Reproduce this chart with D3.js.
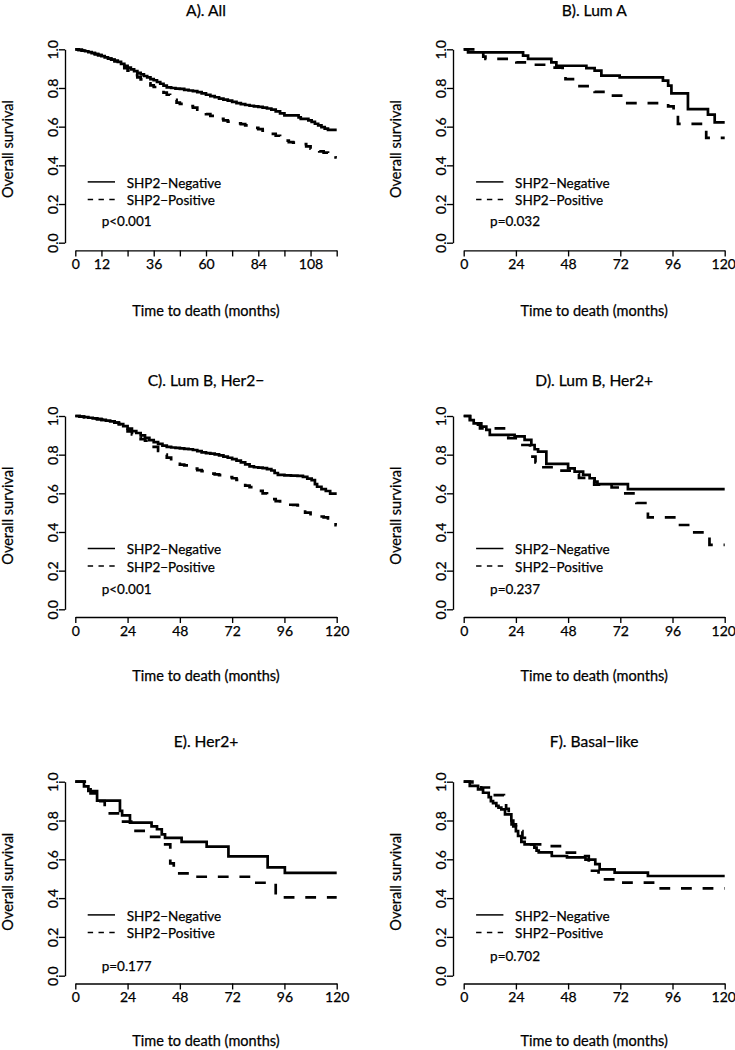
<!DOCTYPE html>
<html>
<head>
<meta charset="utf-8">
<script src="https://cdn.jsdelivr.net/npm/d3@7"></script>
<style>
  html, body { margin: 0; padding: 0; background: #fff; }
  svg { display: block; }
  text { font-family: Lato, "Open Sans", sans-serif; fill: #000; stroke: #000; stroke-width: 0.25px; }
</style>
</head>
<body>
<script>
// ---------------- DATA ----------------
const titles = ["A). All", "B). Lum A", "C). Lum B, Her2\u2212", "D). Lum B, Her2+", "E). Her2+", "F). Basal\u2212like"];
const pValues = ["p<0.001", "p=0.032", "p<0.001", "p=0.237", "p=0.177", "p=0.702"];
const seriesNames = ["SHP2\u2212Negative", "SHP2\u2212Positive"];
const yTicks = [0, 0.2, 0.4, 0.6, 0.8, 1.0];
const allTicks = [0, 12, 24, 36, 48, 60, 72, 84, 96, 108, 120];
const allTickLabels = ["0", "12", "", "36", "", "60", "", "84", "", "108", ""];
const stdTicks = [0, 24, 48, 72, 96, 120];
const stdTickLabels = ["0", "24", "48", "72", "96", "120"];
const yTitle = "Overall survival";
const xTitle = "Time to death (months)";

// Kaplan-Meier steps: [month, survival]
const allNeg = [[0,1],[1.5,0.997],[3,0.993],[4.5,0.99],[6,0.985],[7.5,0.98],[9,0.975],[10.5,0.97],[12,0.965],[13.5,0.958],[15,0.952],[16.5,0.947],[18,0.942],[19.5,0.935],[21,0.925],[22.5,0.915],[24,0.905],[25.5,0.896],[27,0.887],[28.5,0.878],[30,0.87],[31.5,0.862],[33,0.855],[34.5,0.846],[36,0.84],[37.5,0.831],[39,0.822],[40.5,0.812],[42,0.803],[44,0.8],[46,0.797],[48,0.795],[50,0.79],[52,0.787],[54,0.784],[56,0.779],[58,0.772],[60,0.765],[62,0.758],[64,0.752],[66,0.745],[68,0.74],[70,0.735],[72,0.728],[74,0.722],[76,0.717],[78,0.712],[80,0.708],[82,0.705],[84,0.702],[86,0.698],[88,0.694],[90,0.688],[92,0.679],[94,0.669],[96,0.658],[102.5,0.648],[103.5,0.64],[107,0.632],[108.5,0.625],[110,0.615],[111.5,0.607],[113,0.598],[114.5,0.59],[116,0.583]];
const allPos = [[0,1],[1.5,0.997],[3,0.993],[4.5,0.99],[6,0.985],[7.5,0.98],[9,0.975],[10.5,0.97],[12,0.965],[13.5,0.958],[15,0.952],[16.5,0.946],[18,0.938],[19.5,0.928],[21,0.915],[22.5,0.903],[24,0.89],[25.5,0.878],[27,0.866],[28.5,0.855],[30,0.845],[31.5,0.835],[33,0.824],[34.5,0.813],[36,0.805],[37.5,0.797],[39,0.787],[40.5,0.776],[42,0.765],[43.5,0.752],[45,0.738],[46.5,0.724],[48,0.718],[50,0.712],[52,0.706],[54,0.698],[56,0.688],[58,0.676],[60,0.665],[62,0.656],[64,0.648],[66,0.64],[68,0.632],[70,0.626],[72,0.621],[74,0.617],[76,0.613],[78,0.607],[80,0.6],[82,0.594],[84,0.587],[86,0.58],[88,0.572],[90,0.563],[92,0.553],[94,0.54],[96,0.528],[98,0.52],[100,0.517],[102,0.514],[104,0.51],[106,0.498],[108,0.486],[110,0.478],[112,0.472],[114,0.466],[116,0.459],[118,0.45],[119.5,0.441]];
const lumANeg = [[0,1],[2,0.984],[27.3,0.967],[29.6,0.95],[40.3,0.932],[42.6,0.915],[56.4,0.903],[60.2,0.89],[63.3,0.864],[71.7,0.855],[91.6,0.838],[94,0.812],[95.5,0.772],[103.1,0.691],[112.3,0.662],[115.4,0.622]];
const lumAPos = [[0,1],[9,0.962],[10,0.95],[24.2,0.932],[28.8,0.92],[40.8,0.905],[45.5,0.87],[46.8,0.846],[52.6,0.81],[60.2,0.78],[67.9,0.76],[74,0.722],[94,0.705],[96.5,0.665],[98.5,0.614],[111.5,0.542]];
const lumBnNeg = [[0,1],[2,0.997],[4,0.994],[6,0.991],[8,0.988],[10,0.984],[12,0.98],[14,0.976],[16,0.972],[18,0.966],[20,0.958],[22,0.948],[24,0.935],[26,0.922],[28,0.912],[30,0.9],[32,0.887],[34,0.875],[36,0.865],[38,0.856],[40,0.847],[42,0.84],[44,0.837],[46,0.835],[48,0.833],[50,0.83],[52,0.828],[54,0.824],[56,0.818],[58,0.812],[60,0.808],[62,0.805],[64,0.801],[66,0.796],[68,0.79],[70,0.784],[72,0.777],[74,0.769],[76,0.76],[78,0.75],[80,0.739],[82,0.735],[84,0.733],[86,0.73],[88,0.725],[90,0.718],[91.5,0.705],[93,0.695],[96,0.693],[99,0.692],[102,0.69],[104.5,0.685],[106.5,0.676],[108.5,0.668],[110,0.648],[111,0.634],[113,0.622],[115,0.612],[117,0.598]];
const lumBnPos = [[0,1],[2,0.997],[4,0.994],[6,0.991],[8,0.988],[10,0.984],[12,0.98],[14,0.976],[16,0.972],[18,0.966],[20,0.958],[22,0.946],[24,0.92],[26,0.905],[28,0.89],[30,0.88],[32,0.872],[34,0.86],[36,0.84],[38,0.82],[40,0.8],[42,0.785],[44,0.765],[46,0.752],[48,0.748],[50,0.745],[52,0.74],[54,0.728],[56,0.72],[58,0.715],[60,0.71],[62,0.702],[64,0.698],[66,0.694],[68,0.69],[70,0.684],[72,0.678],[74,0.67],[76,0.655],[78,0.64],[80,0.632],[82,0.622],[84,0.613],[86,0.6],[88,0.585],[90,0.57],[92,0.56],[94,0.548],[96,0.543],[98,0.541],[100,0.54],[102,0.538],[104,0.525],[105.5,0.5],[108,0.492],[110,0.485],[112,0.48],[114,0.476],[116,0.47],[118,0.455],[119.5,0.435]];
const lumBpNeg = [[0,1],[2.8,0.979],[4.6,0.962],[8.1,0.945],[10.4,0.928],[12,0.902],[23.4,0.895],[28,0.876],[31.1,0.85],[32.6,0.828],[34.2,0.816],[38,0.752],[48,0.729],[51,0.712],[54.9,0.695],[57.9,0.678],[60.2,0.66],[61.5,0.648],[75.5,0.622]];
const lumBpPos = [[0,1],[3,0.97],[5,0.955],[7.5,0.936],[20.5,0.885],[25.6,0.85],[30.5,0.79],[33,0.76],[35,0.735],[44,0.717],[50,0.7],[53,0.68],[56,0.663],[60,0.645],[68,0.63],[72.5,0.6],[79.4,0.55],[84.7,0.476],[97.7,0.436],[104.5,0.398],[113,0.333]];
const her2Neg = [[0,1],[4,0.976],[6,0.952],[10,0.902],[20.5,0.85],[21.5,0.826],[25.1,0.789],[35,0.77],[37.5,0.755],[39.7,0.728],[41.2,0.71],[48.8,0.69],[60.3,0.665],[70.3,0.615],[88.3,0.558],[96.2,0.53]];
const her2Pos = [[0,1],[5,0.97],[7,0.94],[10,0.9],[13.5,0.837],[20.5,0.794],[26.3,0.747],[34,0.716],[40,0.677],[43.6,0.579],[45.2,0.527],[51.5,0.51],[79.7,0.479],[92,0.404]];
const basalNeg = [[0,1],[2.8,0.978],[6.6,0.96],[8.9,0.943],[11.5,0.92],[12.5,0.9],[13.5,0.89],[15,0.875],[16,0.866],[17.3,0.857],[19,0.832],[21.9,0.8],[22.8,0.77],[24,0.745],[25,0.72],[26.5,0.69],[28,0.677],[32.5,0.66],[33.5,0.645],[34.5,0.636],[40.5,0.617],[47.5,0.61],[56,0.598],[60.5,0.575],[62.5,0.548],[69.4,0.531],[84.7,0.514]];
const basalPos = [[0,1],[4,0.985],[8,0.97],[13.5,0.931],[18.5,0.89],[19.5,0.86],[20.7,0.84],[22,0.78],[24,0.745],[27,0.71],[29,0.685],[31,0.677],[38.8,0.668],[45,0.634],[55,0.617],[57.5,0.541],[62,0.497],[71.3,0.48],[89,0.45]];

// ---------------- LAYOUT ----------------
const cols = [{axisX: 65, x0: 75.3, x1: 336.7}, {axisX: 453, x0: 463.7, x1: 724.7}];
const rows = [
  {y1: 49.3, y0: 242.7, titleY: 15.6, xTitleY: 316},
  {y1: 416, y0: 609.3, titleY: 386, xTitleY: 681},
  {y1: 781.7, y0: 975.7, titleY: 746.7, xTitleY: 1046}
];
const panels = [
  {i: 0, col: 0, row: 0, neg: allNeg, pos: allPos, ticks: allTicks, labels: allTickLabels, pGap: 38.4},
  {i: 1, col: 1, row: 0, neg: lumANeg, pos: lumAPos, ticks: stdTicks, labels: stdTickLabels, pGap: 38.4},
  {i: 2, col: 0, row: 1, neg: lumBnNeg, pos: lumBnPos, ticks: stdTicks, labels: stdTickLabels, pGap: 40},
  {i: 3, col: 1, row: 1, neg: lumBpNeg, pos: lumBpPos, ticks: stdTicks, labels: stdTickLabels, pGap: 40},
  {i: 4, col: 0, row: 2, neg: her2Neg, pos: her2Pos, ticks: stdTicks, labels: stdTickLabels, pGap: 50},
  {i: 5, col: 1, row: 2, neg: basalNeg, pos: basalPos, ticks: stdTicks, labels: stdTickLabels, pGap: 40}
];

const svg = d3.select("body").append("svg").attr("width", 735).attr("height", 1050);

const TICK_FS = "14px", LEG_FS = "13.5px", TITLE_FS = "15.6px", AXT_FS = "14.5px";

panels.forEach(p => {
  const c = cols[p.col], r = rows[p.row];
  const x = d3.scaleLinear().domain([0, 120]).range([c.x0, c.x1]);
  const y = d3.scaleLinear().domain([0, 1]).range([r.y0, r.y1]);
  const g = svg.append("g");
  const axisY0 = r.y0 + (r.y0 - r.y1) * 0.04;

  // x axis
  const xa = g.append("g").attr("transform", `translate(0,${axisY0})`)
    .call(d3.axisBottom(x).tickValues(p.ticks).tickFormat((d, k) => p.labels[k]).tickSize(6).tickSizeOuter(0));
  xa.selectAll("path, line").attr("stroke", "#000").attr("stroke-width", 1.35);
  xa.selectAll("text").attr("y", 18.6).attr("dy", null).style("font-size", TICK_FS).attr("fill", "#000")
    .attr("dx", d => (c.x1 > 700 && d === 120) ? -1.5 : null);

  // y axis
  const ya = g.append("g").attr("transform", `translate(${c.axisX},0)`)
    .call(d3.axisLeft(y).tickValues(yTicks).tickFormat(d3.format(".1f")).tickSize(6).tickSizeOuter(0));
  ya.selectAll("path, line").attr("stroke", "#000").attr("stroke-width", 1.35);
  ya.selectAll("text").attr("x", null).attr("dy", null)
    .attr("transform", "translate(-6.7,0) rotate(-90)")
    .attr("text-anchor", "middle").style("font-size", TICK_FS).attr("fill", "#000");

  // title
  g.append("text").attr("x", (c.x0 + c.x1) / 2).attr("y", r.titleY)
    .attr("text-anchor", "middle").style("font-size", TITLE_FS).text(titles[p.i]);
  // axis titles
  g.append("text").attr("x", (c.x0 + c.x1) / 2).attr("y", r.xTitleY)
    .attr("text-anchor", "middle").style("font-size", AXT_FS).text(xTitle);
  g.append("text").attr("transform", `translate(${c.axisX - 52.5},${(r.y0 + r.y1) / 2 + 3}) rotate(-90)`)
    .attr("text-anchor", "middle").style("font-size", AXT_FS).text(yTitle);

  // curves
  const line = d3.line().x(d => x(d[0])).y(d => y(d[1])).curve(d3.curveStepAfter);
  const ext = s => s.concat([[120, s[s.length - 1][1]]]);
  g.append("path").datum(ext(p.neg)).attr("d", line)
    .attr("fill", "none").attr("stroke", "#000").attr("stroke-width", 2.7);
  g.append("path").datum(ext(p.pos)).attr("d", line)
    .attr("fill", "none").attr("stroke", "#000").attr("stroke-width", 2.7)
    .attr("stroke-dasharray", "10.8,10.8");

  // legend
  const nb = r.y0 - 55;
  const lx0 = c.x0 + 12.4, lx1 = c.x0 + 39.7, tx = c.x0 + 51.4;
  [0, 1].forEach(k => {
    const by = nb + k * 17.5;
    g.append("line").attr("x1", lx0).attr("x2", lx1).attr("y1", by - 5.8).attr("y2", by - 5.8)
      .attr("stroke", "#000").attr("stroke-width", 1.5)
      .attr("stroke-dasharray", k === 1 ? "5.4,5.4" : null);
    g.append("text").attr("x", tx).attr("y", by).style("font-size", LEG_FS).text(seriesNames[k]);
  });
  g.append("text").attr("x", c.x0 + 26.4).attr("y", nb + p.pGap).style("font-size", LEG_FS).text(pValues[p.i]);
});
</script>
</body>
</html>
